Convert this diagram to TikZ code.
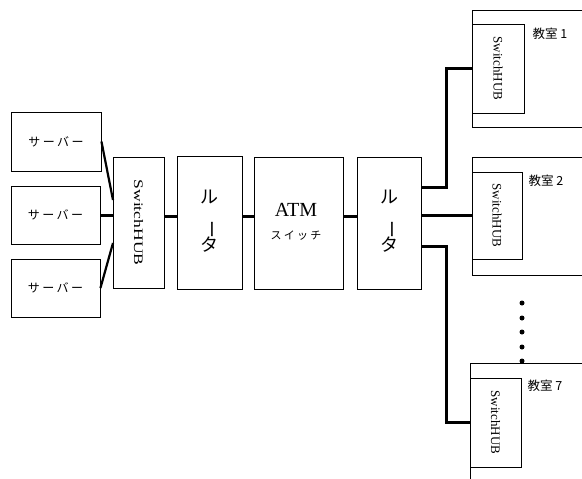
\documentclass[tikz,border=0pt]{standalone}
\usepackage{fontspec}
\usepackage{graphicx}
\setmainfont{Liberation Serif}
\newfontfamily\jp{Noto Sans CJK JP}
\newfontfamily\jpsp[LetterSpace=20]{Noto Sans CJK JP}
\begin{document}
\begin{tikzpicture}[x=1pt,y=-1pt,
  box/.style={draw,line width=0.9pt,inner sep=0pt},
  link/.style={line width=3pt},
  wall/.style={line width=0.9pt},
  srvtxt/.style={font=\jpsp\fontsize{12}{12}\selectfont},
  hubtxt/.style={rotate=-90,font=\fontsize{13}{13}\selectfont},
  rtrtxt/.style={align=center,font=\jp\fontsize{18}{19}\selectfont},
  roomlbl/.style={font=\jp\fontsize{12.5}{12.5}\selectfont},
  dot/.style={circle,fill,inner sep=0pt,minimum size=5pt}]
\useasboundingbox (0,0) rectangle (582,479);
% servers
\node[box,minimum width=90,minimum height=59] (s1) at (56,141.5) {};
\node[box,minimum width=89,minimum height=58] (s2) at (55.5,215) {};
\node[box,minimum width=89,minimum height=58] (s3) at (55.5,288) {};
\node[srvtxt] (s1t) at (s1) {サーバー};
\node[srvtxt] (s2t) at (s2) {サーバー};
\node[srvtxt] (s3t) at (s3) {サーバー};
% switch hub
\node[box,minimum width=51,minimum height=131] (hub) at (138.5,222.5) {};
\node[hubtxt] (hubt) at (hub) {\scalebox{1.35}[1]{SwitchHUB}};
% router 1
\node[box,minimum width=65,minimum height=133] (r1) at (209.5,222.5) {};
\node[rtrtxt] (r1t) at (209.5,221) {ル\\[-2pt]\rotatebox{-90}{ー}\\[-2pt]タ};
% ATM
\node[box,minimum width=89,minimum height=132] (atm) at (298.5,223) {};
\node[font=\fontsize{20}{20}\selectfont] (atmt) at (296,210) {ATM};
\node[font=\jpsp\fontsize{11}{11}\selectfont] (atms) at (296,236) {スイッチ};
% router 2
\node[box,minimum width=64,minimum height=132] (r2) at (389,223) {};
\node[rtrtxt] (r2t) at (389,221) {ル\\[-2pt]\rotatebox{-90}{ー}\\[-2pt]タ};
% classrooms
\coordinate (c1a) at (472,10);
\coordinate (c1b) at (582,10);
\coordinate (c1c) at (472,127);
\coordinate (c1d) at (582,127);
\draw[wall] (c1b) -- (c1a) -- (c1c) -- (c1d);
\node[box,minimum width=52,minimum height=89] (c1hub) at (498,68.5) {};
\node[hubtxt] at (c1hub) {SwitchHUB};
\node[roomlbl] (c1l) at (550,34) {教室 1};

\coordinate (c2a) at (472,157);
\coordinate (c2b) at (582,157);
\coordinate (c2c) at (472,275);
\coordinate (c2d) at (582,275);
\draw[wall] (c2b) -- (c2a) -- (c2c) -- (c2d);
\node[box,minimum width=50,minimum height=87] (c2hub) at (497,215.5) {};
\node[hubtxt] at (c2hub) {SwitchHUB};
\node[roomlbl] (c2l) at (546,181) {教室 2};

\coordinate (c7a) at (470,363);
\coordinate (c7b) at (582,363);
\coordinate (c7c) at (470,479);
\draw[wall] (c7b) -- (c7a) -- (c7c);
\node[box,minimum width=51,minimum height=89] (c7hub) at (495.5,422.5) {};
\node[hubtxt] at (c7hub) {SwitchHUB};
\node[roomlbl] (c7l) at (545,386) {教室 7};
% dots
\foreach \y [count=\i] in {303,318,332,347,361} \node[dot] (d\i) at (522,\y) {};
% links
\coordinate (h1) at (113,200);
\coordinate (h3) at (113,243);
\draw[line width=2.2pt] (s1.east) -- (h1);
\draw[line width=2.2pt] (s3.east) -- (h3);
\draw[link] (s2.east) -- (hub.west |- s2.east);
\draw[link] (hub.east |- 0,216) -- (r1.west |- 0,216);
\draw[link] (r1.east |- 0,216) -- (atm.west |- 0,216);
\draw[link] (atm.east |- 0,216) -- (r2.west |- 0,216);
\draw[link] (c2hub.west) -- (r2.east |- c2hub.west);
\draw[link] (c1hub.west) -| (446,187) -- (r2.east |- 0,187);
\draw[link] (c7hub.west) -| (446,246) -- (r2.east |- 0,246);
\end{tikzpicture}
\end{document}
